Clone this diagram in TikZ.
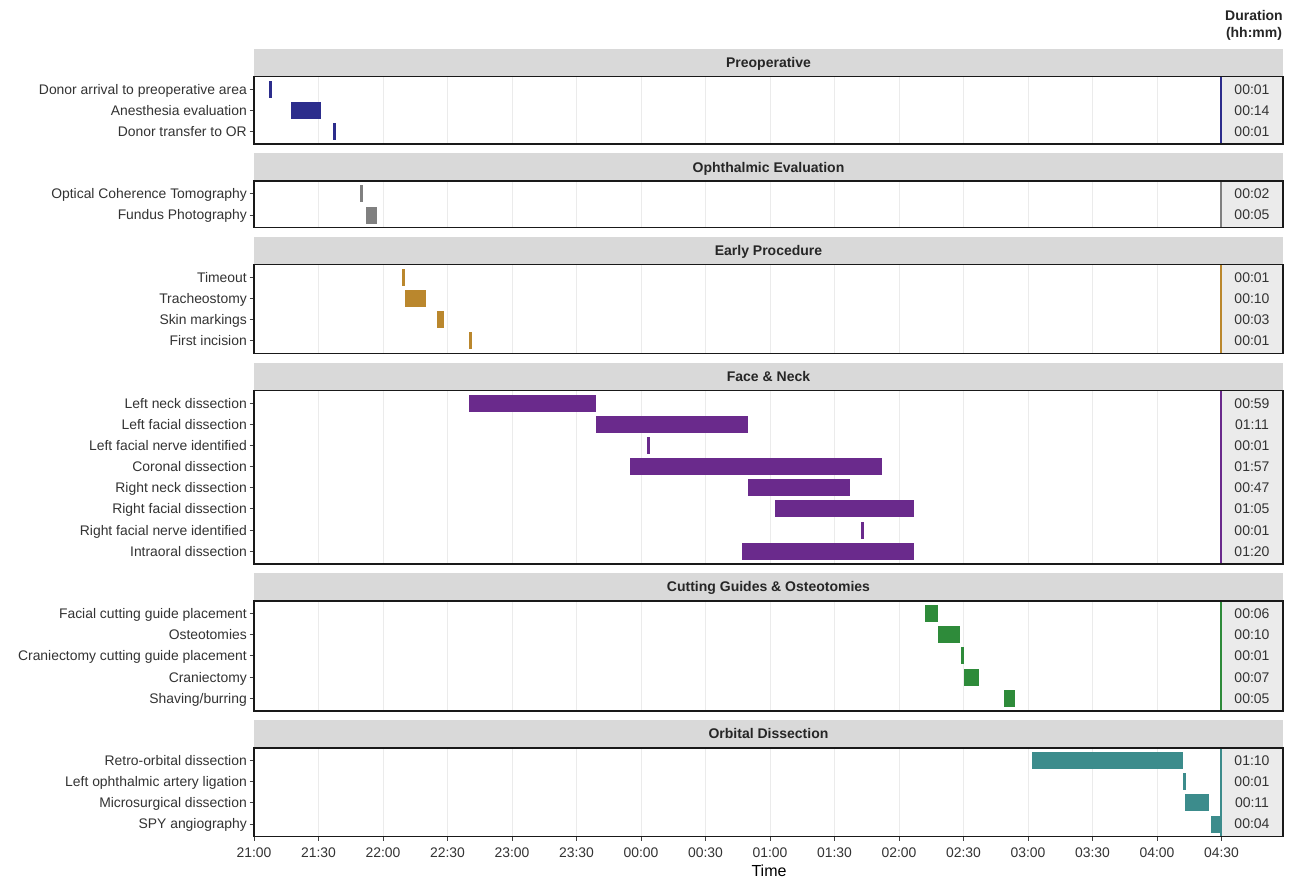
\documentclass[tikz,border=0pt]{standalone}
\usepackage{fontspec}
\setmainfont{Liberation Sans}
\definecolor{cPre}{RGB}{44,45,140}
\definecolor{cOph}{RGB}{128,128,128}
\definecolor{cEarly}{RGB}{186,135,45}
\definecolor{cFace}{RGB}{106,42,140}
\definecolor{cCut}{RGB}{46,139,58}
\definecolor{cOrb}{RGB}{60,140,140}
\definecolor{stripgrey}{RGB}{217,217,217}
\definecolor{durgrey}{RGB}{235,235,235}
\definecolor{gridgrey}{RGB}{235,235,235}
\definecolor{axistext}{RGB}{51,51,51}
\tikzset{
  rowlabel/.style={anchor=base east,inner sep=0pt,text=axistext,font=\fontsize{13.9}{16}\selectfont},
  durtext/.style={anchor=base,inner sep=0pt,text=axistext,font=\fontsize{14}{16}\selectfont},
  striptitle/.style={anchor=base,inner sep=0pt,text=black!85,font=\bfseries\fontsize{14}{16}\selectfont},
  headtext/.style={anchor=base,inner sep=0pt,text=black!85,font=\bfseries\fontsize{14}{16}\selectfont},
  ticklabel/.style={anchor=base,inner sep=0pt,text=axistext,font=\fontsize{13.9}{16}\selectfont},
  axistitle/.style={anchor=base,inner sep=0pt,text=black,font=\fontsize{16}{18}\selectfont},
  gridline/.style={draw=gridgrey,line width=1pt},
  panelborder/.style={draw=black!90,line width=1.4pt},
  axtick/.style={draw=black!75,line width=1pt},
  stripbg/.style={fill=stripgrey},
  durbg/.style={fill=durgrey}
}
\newcommand{\facetbox}[5]{%
  \pgfmathsetmacro{\ptop}{#1+28}%
  \pgfmathsetmacro{\pbot}{#1+28+(#2+0.2)*21.15}%
  \fill[stripbg] (254,#1) rectangle (1283,\ptop);
  \node[striptitle] (#5) at (768.5,{#1+19}) {#3};
  \fill[durbg] (1221,\ptop) rectangle (1283,\pbot);
  \foreach \i in {1,...,14} {\draw[gridline] ({254+64.5*\i},\ptop) -- ({254+64.5*\i},\pbot);}
  \draw[#4,line width=1.4pt] (1221,\ptop) -- (1221,\pbot);
}
\newcommand{\facetframe}{%
  \draw[panelborder] (254,\ptop) rectangle (1283,\pbot);
}
\newcommand{\ganttrow}[7]{%
  \pgfmathsetmacro{\ry}{\ptop+12.69+#1*21.15}%
  \node[rowlabel] (#7) at (247,\ry+4.9) {#2};
  \draw[axtick] (249.5,\ry) -- (254,\ry);
  \fill[#6] (#3,\ry-8.5) rectangle (#4,\ry+8.5);
  \node[durtext] (#7-d) at (1252,\ry+4.9) {#5};
}
\begin{document}
\begin{tikzpicture}[x=1pt,y=-1pt]
\useasboundingbox (0,0) rectangle (1294,881);
\fill[white] (0,0) rectangle (1294,881);

% header
\node[headtext] (dur-h1) at (1254,20) {Duration};
\node[headtext] (dur-h2) at (1254,37) {(hh:mm)};

% Preoperative
\facetbox{48.5}{3}{Preoperative}{cPre}{f-pre}
\ganttrow{0}{Donor arrival to preoperative area}{268.5}{271.5}{00:01}{cPre}{r-pre1}
\ganttrow{1}{Anesthesia evaluation}{291}{321}{00:14}{cPre}{r-pre2}
\ganttrow{2}{Donor transfer to OR}{332.5}{335.5}{00:01}{cPre}{r-pre3}
\facetframe

% Ophthalmic
\facetbox{153.18}{2}{Ophthalmic Evaluation}{cOph}{f-oph}
\ganttrow{0}{Optical Coherence Tomography}{359.5}{363}{00:02}{cOph}{r-oph1}
\ganttrow{1}{Fundus Photography}{366}{377}{00:05}{cOph}{r-oph2}
\facetframe

% Early
\facetbox{236.71}{4}{Early Procedure}{cEarly}{f-early}
\ganttrow{0}{Timeout}{401.5}{404.5}{00:01}{cEarly}{r-ea1}
\ganttrow{1}{Tracheostomy}{405}{426}{00:10}{cEarly}{r-ea2}
\ganttrow{2}{Skin markings}{437}{443.5}{00:03}{cEarly}{r-ea3}
\ganttrow{3}{First incision}{468.5}{471.5}{00:01}{cEarly}{r-ea4}
\facetframe

% Face & Neck
\facetbox{362.54}{8}{Face \& Neck}{cFace}{f-face}
\ganttrow{0}{Left neck dissection}{469}{596}{00:59}{cFace}{r-fa1}
\ganttrow{1}{Left facial dissection}{596}{748}{01:11}{cFace}{r-fa2}
\ganttrow{2}{Left facial nerve identified}{647}{650}{00:01}{cFace}{r-fa3}
\ganttrow{3}{Coronal dissection}{630}{882}{01:57}{cFace}{r-fa4}
\ganttrow{4}{Right neck dissection}{748}{850}{00:47}{cFace}{r-fa5}
\ganttrow{5}{Right facial dissection}{775}{914}{01:05}{cFace}{r-fa6}
\ganttrow{6}{Right facial nerve identified}{860.5}{863.5}{00:01}{cFace}{r-fa7}
\ganttrow{7}{Intraoral dissection}{742}{914}{01:20}{cFace}{r-fa8}
\facetframe

% Cutting guides
\facetbox{572.97}{5}{Cutting Guides \& Osteotomies}{cCut}{f-cut}
\ganttrow{0}{Facial cutting guide placement}{925}{938}{00:06}{cCut}{r-cu1}
\ganttrow{1}{Osteotomies}{938}{959.5}{00:10}{cCut}{r-cu2}
\ganttrow{2}{Craniectomy cutting guide placement}{960.5}{963.5}{00:01}{cCut}{r-cu3}
\ganttrow{3}{Craniectomy}{963.5}{979}{00:07}{cCut}{r-cu4}
\ganttrow{4}{Shaving/burring}{1004}{1015}{00:05}{cCut}{r-cu5}
\facetframe

% Orbital
\facetbox{719.95}{4}{Orbital Dissection}{cOrb}{f-orb}
\ganttrow{0}{Retro-orbital dissection}{1032}{1183}{01:10}{cOrb}{r-or1}
\ganttrow{1}{Left ophthalmic artery ligation}{1182.5}{1185.5}{00:01}{cOrb}{r-or2}
\ganttrow{2}{Microsurgical dissection}{1185}{1208.5}{00:11}{cOrb}{r-or3}
\ganttrow{3}{SPY angiography}{1211}{1219.5}{00:04}{cOrb}{r-or4}
\facetframe

% x axis
\foreach \t [count=\i from 0] in {21:00,21:30,22:00,22:30,23:00,23:30,00:00,00:30,01:00,01:30,02:00,02:30,03:00,03:30,04:00,04:30}{
  \draw[axtick] ({254+64.5*\i},\pbot) -- ({254+64.5*\i},{\pbot+4.5});
  \node[ticklabel] (tick\i) at ({254+64.5*\i},857) {\t};
}
\node[axistitle] (xtitle) at (769,876) {Time};
\end{tikzpicture}
\end{document}
